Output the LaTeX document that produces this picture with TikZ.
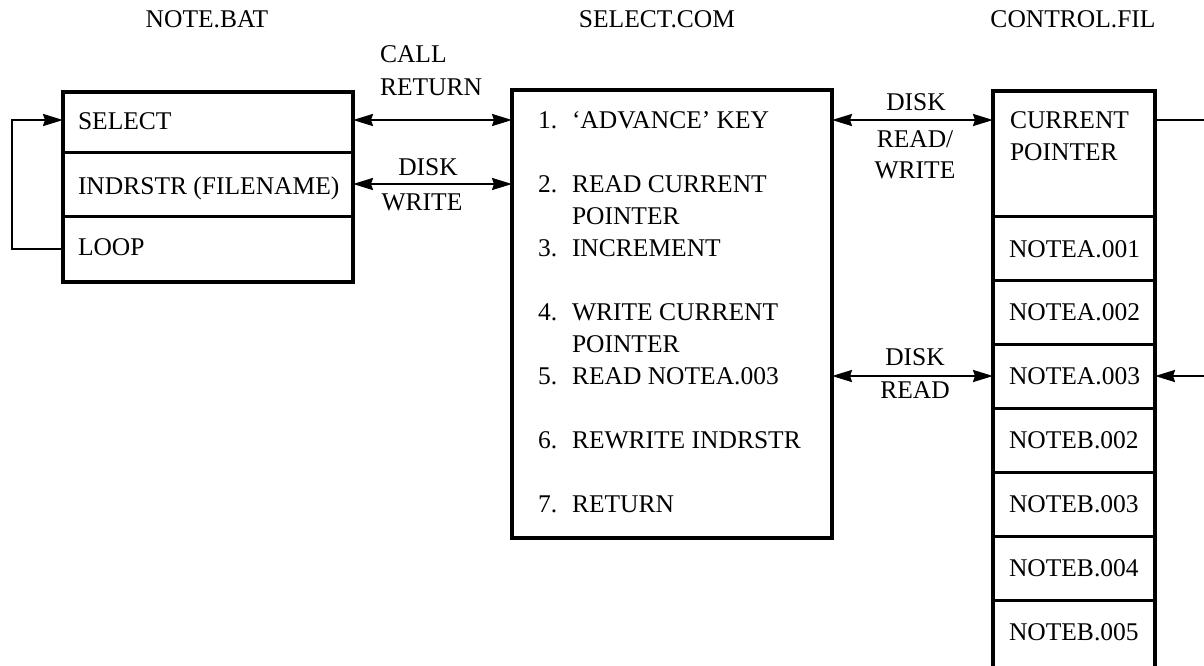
\documentclass[tikz,border=0pt]{standalone}
\usepackage{fontspec}
\setmainfont{Liberation Serif}
\usetikzlibrary{arrows.meta,calc}
\begin{document}
\begin{tikzpicture}[x=1pt,y=-1pt,
  every node/.style={inner sep=0pt, outer sep=0pt, font=\fontsize{25.5}{32}\selectfont},
  txt/.style={anchor=base west},
  ctxt/.style={anchor=base},
  cell/.style={draw, line width=3pt, anchor=north west, minimum width=#1},
  outer/.style={draw, line width=4pt},
  tip/.style={Stealth[length=20pt,width=12pt,inset=2pt]},
  link/.style={line width=2.2pt, {Stealth[length=20pt,width=12pt,inset=2pt]}-{Stealth[length=20pt,width=12pt,inset=2pt]}},
  loopline/.style={line width=2.2pt, -{Stealth[length=20pt,width=12pt,inset=2pt]}},
]
\useasboundingbox (0,0) rectangle (1204,665);

% column titles
\node[ctxt] (tbat) at (207,27) {NOTE.BAT};
\node[ctxt] (tcom) at (657,27) {SELECT.COM};
\node[ctxt] (tfil) at (1073,27) {CONTROL.FIL};

% NOTE.BAT cells
\node[cell=290pt, minimum height=60pt] (sel)  at (63,92)  {};
\node[cell=290pt, minimum height=64pt] (ind)  at (63,152) {};
\node[cell=290pt, minimum height=66pt] (lop)  at (63,216) {};
\draw[outer] (sel.north west) rectangle (lop.south east);
\node[txt] (selt) at (78,129) {SELECT};
\node[txt] (indt) at (78,194) {INDRSTR (FILENAME)};
\node[txt] (lopt) at (78,255) {LOOP};

% SELECT.COM program box
\node[cell=320pt, minimum height=448pt, line width=4pt] (prog) at (512,90) {};
\node[txt] (n1) at (538,128) {1.}; \node[txt] (s1) at (572,128) {`ADVANCE' KEY};
\node[txt] (n2) at (538,192) {2.}; \node[txt] (s2) at (572,192) {READ CURRENT};
                                   \node[txt] (s2b) at (572,224) {POINTER};
\node[txt] (n3) at (538,256) {3.}; \node[txt] (s3) at (572,256) {INCREMENT};
\node[txt] (n4) at (538,320) {4.}; \node[txt] (s4) at (572,320) {WRITE CURRENT};
                                   \node[txt] (s4b) at (572,352) {POINTER};
\node[txt] (n5) at (538,384) {5.}; \node[txt] (s5) at (572,384) {READ NOTEA.003};
\node[txt] (n6) at (538,448) {6.}; \node[txt] (s6) at (572,448) {REWRITE INDRSTR};
\node[txt] (n7) at (538,512) {7.}; \node[txt] (s7) at (572,512) {RETURN};

% CONTROL.FIL cells
\node[cell=162pt, minimum height=125pt] (crp) at (993,91)  {};
\node[cell=162pt, minimum height=64pt]  (na1) at (993,216) {};
\node[cell=162pt, minimum height=64pt]  (na2) at (993,280) {};
\node[cell=162pt, minimum height=64pt]  (na3) at (993,344) {};
\node[cell=162pt, minimum height=64pt]  (nb2) at (993,408) {};
\node[cell=162pt, minimum height=64pt]  (nb3) at (993,472) {};
\node[cell=162pt, minimum height=64pt]  (nb4) at (993,536) {};
\node[cell=162pt, minimum height=70pt]  (nb5) at (993,600) {};
\draw[outer] (crp.north west) rectangle (nb5.south east);
\node[txt] (crpt)  at (1010,128) {CURRENT};
\node[txt] (crpt2) at (1010,160) {POINTER};
\node[txt] (na1t) at (1009,257) {NOTEA.001};
\node[txt] (na2t) at (1009,320) {NOTEA.002};
\node[txt] (na3t) at (1009,384) {NOTEA.003};
\node[txt] (nb2t) at (1009,448) {NOTEB.002};
\node[txt] (nb3t) at (1009,512) {NOTEB.003};
\node[txt] (nb4t) at (1009,576) {NOTEB.004};
\node[txt] (nb5t) at (1009,640) {NOTEB.005};

% connectors
\draw[link] ($(sel.north east)+(0,28)$) -- ($(prog.north west)+(0,30)$);
\draw[link] (ind.east) -- (ind.east -| prog.west);
\draw[link] ($(prog.north east)+(0,30)$) -- ($(crp.north west)+(0,29)$);
\draw[link] (na3.west -| prog.east) -- (na3.west);
\draw[loopline] (lop.west) -- ++(-51,0) |- ($(sel.north west)+(0,28)$);
\draw[loopline] ($(crp.north east)+(0,29)$) -- ++(60,0) |- (na3.east);

% connector labels
\node[txt] (call) at (380,62) {CALL};
\node[txt] (ret)  at (380,95) {RETURN};
\node[ctxt] (dw1) at (428,175) {DISK};
\node[ctxt] (dw2) at (422,210) {WRITE};
\node[ctxt] (rw1) at (916,110) {DISK};
\node[ctxt] (rw2) at (915,147) {READ/};
\node[ctxt] (rw3) at (915,178) {WRITE};
\node[ctxt] (dr1) at (915,365) {DISK};
\node[ctxt] (dr2) at (915,398) {READ};
\end{tikzpicture}
\end{document}
